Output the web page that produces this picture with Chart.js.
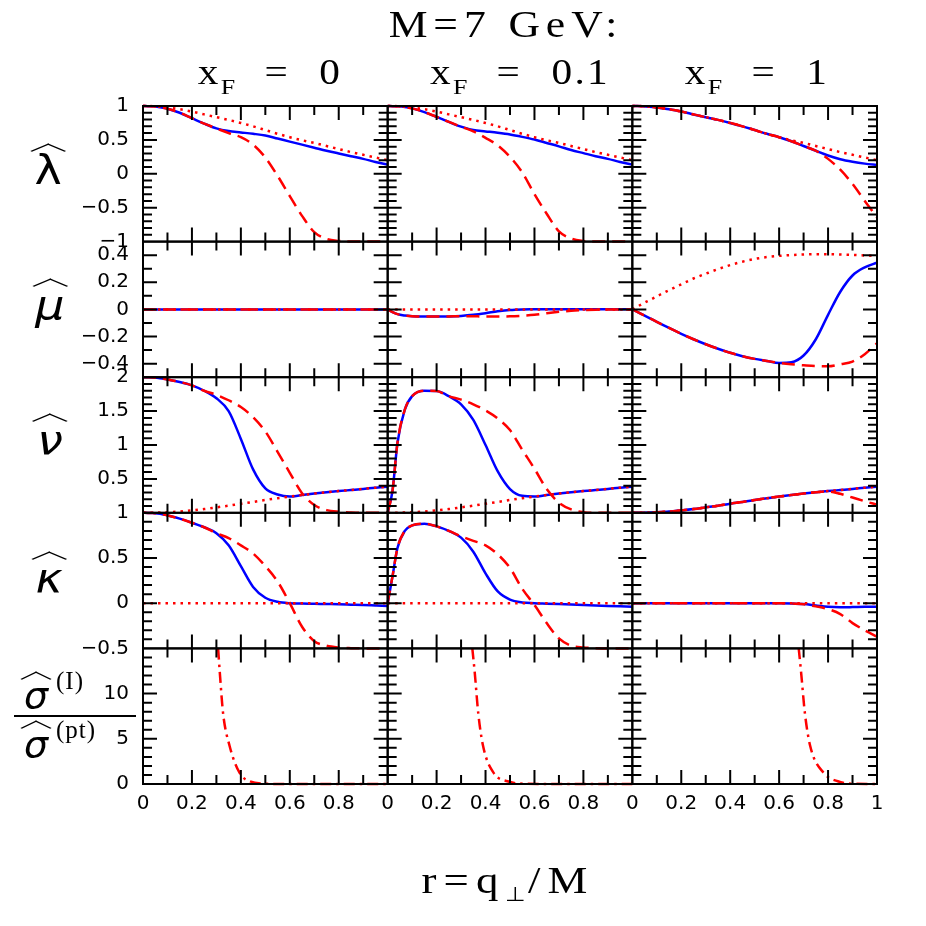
<!DOCTYPE html>
<html>
<head>
<meta charset="utf-8">
<script src="https://cdn.jsdelivr.net/npm/chart.js@4.4.0/dist/chart.umd.min.js"></script>
<style>
  html, body { margin: 0; padding: 0; background: #fff; }
  #wrap { position: relative; width: 926px; height: 926px; overflow: hidden; }
  #plot { position: absolute; left: 0; top: 0; }
  .lbl { position: absolute; white-space: pre; color: #000;
         font-family: "Liberation Serif", serif; line-height: 1; }
  .title { font-size: 37px; letter-spacing: 5px; transform: translate(-50%, -50%) scaleX(1.18); }
  .xf { font-size: 35px; letter-spacing: 2px; word-spacing: 14px; transform: translate(-50%, -50%) scaleX(1.18); }
  .xf sub { font-size: 22px; vertical-align: -10px; letter-spacing: 0; }
  .xtitle { font-size: 38px; letter-spacing: 6px; transform: translate(-50%, -50%) scaleX(1.18); }
  .xtitle sub { font-size: 20px; vertical-align: -8px; letter-spacing: 2px; }
  .greek { position: absolute; transform: translate(-50%, -50%) scaleX(1.15); font: italic 40px "DejaVu Sans", sans-serif; line-height: 1; }
  .greek.up { font-style: normal; }
  .hat { position: absolute; left: 50%; top: -10px; width: 20px; height: 20px;
         border-top: 2px solid #000; border-left: 2px solid #000;
         transform: translateX(-50%) scaleY(0.48) rotate(45deg); transform-origin: 50% 50%; }
  .frac { position: absolute; left: 14px; top: 670px; width: 122px; text-align: center; }
  .frac .row { position: relative; height: 43px; font-family: "Liberation Serif", serif; }
  .frac .sig { position: absolute; left: 10px; top: 6px; font: italic 38px "DejaVu Sans", sans-serif; line-height: 1; }
  .frac .sig .hat { top: -8px; }
  .frac .sup { position: absolute; left: 42px; top: -3px; font-size: 25px; letter-spacing: 1px; }
  .frac .bar { height: 2px; background: #000; margin: 2px 0; }
</style>
</head>
<body>
<div id="wrap">
  <canvas id="plot" width="926" height="926"></canvas>

  <div class="lbl title" style="left:506px; top:24px">M=7 GeV:</div>
  <div class="lbl xf" style="left:270px; top:76px">x<sub>F</sub> = 0</div>
  <div class="lbl xf" style="left:520px; top:76px">x<sub>F</sub> = 0.1</div>
  <div class="lbl xf" style="left:757px; top:76px">x<sub>F</sub> = 1</div>

  <div class="greek up" style="left:48px; top:170px"><span class="hat"></span>λ</div>
  <div class="greek" style="left:50px; top:305px"><span class="hat"></span>μ</div>
  <div class="greek" style="left:50px; top:440px"><span class="hat"></span>ν</div>
  <div class="greek" style="left:49px; top:578px"><span class="hat"></span>κ</div>

  <div class="frac">
    <div class="row"><span class="sig"><span class="hat"></span>σ</span><span class="sup">(I)</span></div>
    <div class="bar"></div>
    <div class="row"><span class="sig"><span class="hat"></span>σ</span><span class="sup">(pt)</span></div>
  </div>

  <div class="lbl xtitle" style="left:508px; top:882px">r=q<sub>⊥</sub>/M</div>
</div>
<script>
// r = q_perp / M sampling used for the angular coefficient curves
const r = [0, .02, .04, .07, .1, .15, .2, .25, .3, .35, .4, .45, .5, .55, .6, .65, .7, .75, .8, .85, .9, .95, 1];
const zeros = [0, 0, 0, 0, 0, 0, 0, 0, 0, 0, 0, 0, 0, 0, 0, 0, 0, 0, 0, 0, 0, 0, 0];

// lambda
const lamDot = [1, 1, .998, .99, .978, .952, .918, .876, .835, .795, .75, .70, .645, .59, .54, .495, .455, .41, .365, .32, .28, .24, .2];
const lamSolid0 = [1, .998, .995, .98, .96, .90, .82, .74, .67, .63, .61, .59, .565, .52, .475, .43, .385, .34, .30, .26, .22, .175, .135];
const lamDash0 = [1, .998, .995, .98, .96, .90, .82, .74, .67, .60, .54, .43, .24, -.03, -.33, -.62, -.86, -.96, -.99, -1, -1, -1, -1];
const lamSolid1 = [1, .998, .995, .985, .965, .91, .84, .765, .695, .645, .625, .605, .58, .545, .505, .455, .405, .35, .305, .26, .22, .175, .135];
const lamDash1 = [1, .998, .995, .985, .965, .91, .84, .765, .695, .625, .53, .42, .25, .02, -.30, -.59, -.85, -.955, -.99, -1, -1, -1, -1];
const lamSolid2 = [1, 1, .998, .99, .978, .952, .918, .876, .835, .795, .75, .70, .645, .59, .54, .48, .41, .34, .27, .215, .178, .15, .13];
const lamDash2 = [1, 1, .998, .99, .978, .952, .918, .876, .835, .795, .75, .70, .645, .59, .54, .48, .41, .34, .22, .06, -.15, -.40, -.64];

// mu
const muSolid1 = [0, -.02, -.035, -.045, -.05, -.053, -.053, -.052, -.048, -.04, -.028, -.014, -.004, 0, .001, .002, .002, .002, .002, .002, .001, .001, 0];
const muDash1 = [0, -.02, -.035, -.045, -.05, -.053, -.053, -.052, -.05, -.051, -.052, -.052, -.051, -.047, -.04, -.028, -.018, -.01, -.005, -.002, -.001, 0, 0];
const muSolid2 = [0, -.018, -.037, -.064, -.092, -.137, -.18, -.22, -.257, -.29, -.32, -.345, -.365, -.38, -.395, -.39, -.34, -.22, -.04, .13, .25, .31, .345];
const muDash2 = [0, -.018, -.037, -.064, -.092, -.137, -.18, -.22, -.257, -.29, -.32, -.345, -.365, -.38, -.395, -.405, -.412, -.418, -.42, -.405, -.385, -.33, -.25];
const muDot2 = [0, .02, .04, .068, .096, .142, .185, .228, .263, .297, .327, .352, .372, .386, .395, .401, .405, .407, .407, .405, .402, .398, .395];

// nu
const nuDot = [0, 0, .001, .004, .008, .018, .035, .055, .08, .105, .135, .16, .19, .215, .24, .262, .283, .302, .32, .336, .352, .37, .385];
const nuSolid0 = [2, 1.998, 1.995, 1.985, 1.965, 1.93, 1.88, 1.80, 1.69, 1.50, 1.09, .64, .36, .27, .24, .262, .283, .302, .32, .336, .352, .37, .385];
const nuDash0 = [2, 1.998, 1.995, 1.985, 1.965, 1.93, 1.88, 1.80, 1.74, 1.66, 1.56, 1.41, 1.20, .90, .59, .29, .115, .04, .015, .005, 0, 0, 0];
const nuSolid1 = [0, .33, 1.03, 1.52, 1.72, 1.80, 1.795, 1.72, 1.60, 1.37, 1.0, .61, .35, .25, .24, .262, .283, .302, .32, .336, .352, .37, .385];
const nuDash1 = [0, .33, 1.03, 1.52, 1.72, 1.80, 1.795, 1.72, 1.67, 1.60, 1.51, 1.39, 1.22, .93, .65, .35, .15, .05, .01, 0, 0, 0, 0];
const nuSolid2 = [0, 0, .001, .004, .008, .018, .035, .055, .08, .105, .135, .16, .19, .215, .24, .262, .283, .302, .32, .336, .352, .37, .385];
const nuDash2 = [0, 0, .001, .004, .008, .018, .035, .055, .08, .105, .135, .16, .19, .215, .24, .262, .283, .302, .315, .28, .225, .17, .12];

// kappa
const kapSolid0 = [1, .999, .997, .99, .97, .935, .89, .84, .775, .64, .41, .18, .06, .015, 0, -.003, -.006, -.009, -.012, -.016, -.02, -.025, -.03];
const kapDash0 = [1, .999, .997, .99, .97, .935, .89, .84, .775, .72, .64, .55, .41, .24, 0, -.26, -.42, -.47, -.49, -.497, -.5, -.5, -.5];
const kapSolid1 = [0, .30, .61, .80, .86, .88, .85, .80, .725, .57, .33, .13, .04, .008, 0, -.005, -.01, -.015, -.02, -.025, -.03, -.035, -.04];
const kapDash1 = [0, .30, .61, .80, .86, .88, .85, .80, .74, .69, .64, .54, .39, .16, -.02, -.22, -.39, -.47, -.49, -.497, -.5, -.5, -.5];
const kapSolid2 = [0, 0, 0, 0, 0, 0, 0, 0, 0, 0, 0, 0, 0, 0, 0, -.003, -.01, -.025, -.04, -.045, -.043, -.04, -.04];
const kapDash2 = [0, 0, 0, 0, 0, 0, 0, 0, 0, 0, 0, 0, 0, 0, 0, -.003, -.012, -.035, -.065, -.12, -.22, -.30, -.37];

// sigma(I) / sigma(pt)
const sigX0 = [.307, .314, .327, .354, .395, .436, .5, .6, .8, 1];
const sigY0 = [15, 12.3, 7.9, 4.2, 1.22, .3, .04, 0, 0, 0];
const sigX1 = [.346, .356, .37, .39, .434, .49, .56, .7, 1];
const sigY1 = [15, 12.3, 7.9, 4.2, 1.2, .3, .03, 0, 0];
const sigX2 = [.68, .69, .705, .727, .783, .84, .895, 1];
const sigY2 = [15, 12.3, 7.9, 4.2, 1.2, .3, .03, 0];

// axis ranges and labelled ticks
const rowMin = [-1, -0.5, 0, -0.5, 0];
const rowMax = [1, 0.5, 2, 1, 15];
const rowLabels = [[-1, -0.5, 0, 0.5, 1], [-0.4, -0.2, 0, 0.2, 0.4], [0.5, 1, 1.5, 2], [-0.5, 0, 0.5, 1], [0, 5, 10]];
const rowSteps = [[0.1, 0.5], [0.1, 0.2], [0.1, 0.5], [0.1, 0.5], [1, 5]];
const colLabels = [[0, 0.2, 0.4, 0.6, 0.8], [0, 0.2, 0.4, 0.6, 0.8], [0, 0.2, 0.4, 0.6, 0.8, 1]];

const BLUE = '#0000ff', RED = '#ff0000';

function pts(xs, ys) {
    return xs.map((x, i) => ({ x: x, y: ys[i] }));
}
function solid(xs, ys, c, row) {
    return { data: pts(xs, ys), xAxisID: 'x' + c, yAxisID: 'y' + row, borderColor: BLUE, borderWidth: 2.5, order: 3 };
}
function dashed(xs, ys, c, row) {
    return { data: pts(xs, ys), xAxisID: 'x' + c, yAxisID: 'y' + row, borderColor: RED, borderWidth: 2.5, borderDash: [13, 7], order: 2 };
}
function dotted(xs, ys, c, row) {
    return { data: pts(xs, ys), xAxisID: 'x' + c, yAxisID: 'y' + row, borderColor: RED, borderWidth: 2.5, borderDash: [2.5, 5], order: 1 };
}
function dashdot(xs, ys, c, row) {
    return { data: pts(xs, ys), xAxisID: 'x' + c, yAxisID: 'y' + row, borderColor: RED, borderWidth: 2.5, borderDash: [11, 5, 2.5, 5], order: 1 };
}

const datasets = [
    solid(r, lamSolid0, 0, 0), dashed(r, lamDash0, 0, 0), dotted(r, lamDot, 0, 0),
    solid(r, lamSolid1, 1, 0), dashed(r, lamDash1, 1, 0), dotted(r, lamDot, 1, 0),
    solid(r, lamSolid2, 2, 0), dashed(r, lamDash2, 2, 0), dotted(r, lamDot, 2, 0),

    solid(r, zeros, 0, 1), dashed(r, zeros, 0, 1), dotted(r, zeros, 0, 1),
    solid(r, muSolid1, 1, 1), dashed(r, muDash1, 1, 1), dotted(r, zeros, 1, 1),
    solid(r, muSolid2, 2, 1), dashed(r, muDash2, 2, 1), dotted(r, muDot2, 2, 1),

    solid(r, nuSolid0, 0, 2), dashed(r, nuDash0, 0, 2), dotted(r, nuDot, 0, 2),
    solid(r, nuSolid1, 1, 2), dashed(r, nuDash1, 1, 2), dotted(r, nuDot, 1, 2),
    solid(r, nuSolid2, 2, 2), dashed(r, nuDash2, 2, 2), dotted(r, nuDot, 2, 2),

    solid(r, kapSolid0, 0, 3), dashed(r, kapDash0, 0, 3), dotted(r, zeros, 0, 3),
    solid(r, kapSolid1, 1, 3), dashed(r, kapDash1, 1, 3), dotted(r, zeros, 1, 3),
    solid(r, kapSolid2, 2, 3), dashed(r, kapDash2, 2, 3), dotted(r, zeros, 2, 3),

    dashdot(sigX0, sigY0, 0, 4), dashdot(sigX1, sigY1, 1, 4), dashdot(sigX2, sigY2, 2, 4)
];

function fmt(v) {
    return String(v).replace('-', '\u2212');
}

const tickFont = { family: 'DejaVu Sans', size: 20 };
const scales = {};
// left stack: the last defined scale is placed on top
for (let row = 4; row >= 0; row--) {
    scales['y' + row] = {
        type: 'linear', position: 'left', stack: 'rows', stackWeight: 1,
        min: rowMin[row], max: rowMax[row],
        grid: { display: false, drawTicks: false }, border: { display: false },
        ticks: { font: tickFont, color: '#000', padding: 14, autoSkip: false, callback: v => fmt(v) },
        afterBuildTicks: s => { s.ticks = rowLabels[row].map(v => ({ value: v })); },
        afterFit: s => { s.width = 60; }
    };
}
for (let c = 0; c < 3; c++) {
    scales['x' + c] = {
        type: 'linear', position: 'bottom', stack: 'cols', stackWeight: 1,
        min: 0, max: 1,
        grid: { display: false, drawTicks: false }, border: { display: false },
        ticks: { font: tickFont, color: '#000', padding: 8, autoSkip: false, maxRotation: 0, callback: v => fmt(v) },
        afterBuildTicks: s => { s.ticks = colLabels[c].map(v => ({ value: v })); },
        afterFit: s => { s.height = 40; }
    };
}

// frames and inward ticks on all four sides of every panel
const panelTicks = {
    id: 'panelTicks',
    afterDatasetsDraw(chart) {
        const ctx = chart.ctx;
        ctx.save();
        ctx.strokeStyle = '#000';
        ctx.lineWidth = 2;
        for (let c = 0; c < 3; c++) {
            const xs = chart.scales['x' + c];
            for (let row = 0; row < 5; row++) {
                const ys = chart.scales['y' + row];
                const T = ys.top, B = ys.bottom, L = xs.left, R = xs.right;
                ctx.beginPath();
                for (let k = 1; k < 10; k++) {
                    const px = xs.getPixelForValue(k / 10);
                    const len = k % 2 === 0 ? 14 : 9;
                    ctx.moveTo(px, T); ctx.lineTo(px, T + len);
                    ctx.moveTo(px, B); ctx.lineTo(px, B - len);
                }
                const minor = rowSteps[row][0], major = rowSteps[row][1];
                const n = Math.round((rowMax[row] - rowMin[row]) / minor);
                for (let k = 1; k < n; k++) {
                    const v = rowMin[row] + k * minor;
                    const py = ys.getPixelForValue(v);
                    const q = v / major;
                    const len = Math.abs(q - Math.round(q)) < 1e-6 ? 14 : 9;
                    ctx.moveTo(L, py); ctx.lineTo(L + len, py);
                    ctx.moveTo(R, py); ctx.lineTo(R - len, py);
                }
                ctx.stroke();
                ctx.strokeRect(L, T, R - L, B - T);
            }
        }
        ctx.restore();
    }
};

new Chart(document.getElementById('plot'), {
    type: 'scatter',
    data: { datasets: datasets },
    options: {
        responsive: false,
        animation: false,
        layout: { padding: { left: 83, right: 49, top: 106, bottom: 102 } },
        showLine: true,
        elements: {
            point: { radius: 0, hoverRadius: 0 },
            line: { cubicInterpolationMode: 'monotone', borderCapStyle: 'butt', fill: false }
        },
        datasets: { scatter: { showLine: true, clip: 3 } },
        plugins: { legend: { display: false }, tooltip: { enabled: false } },
        scales: scales
    },
    plugins: [panelTicks]
});
</script>
</body>
</html>
